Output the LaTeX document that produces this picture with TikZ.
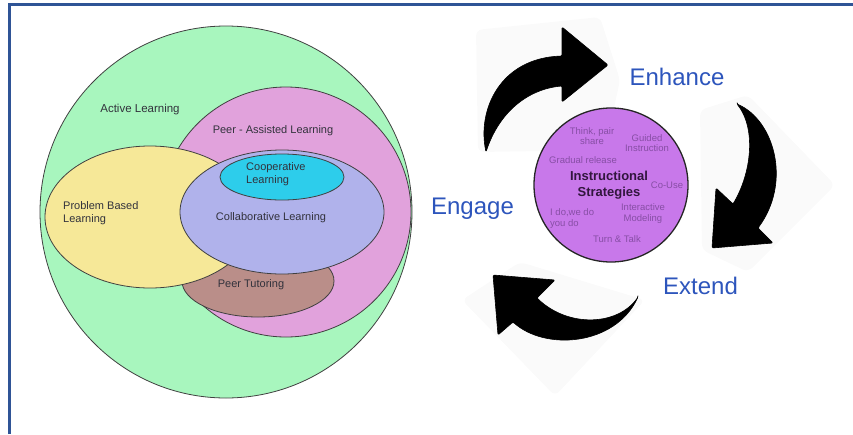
\documentclass[tikz,border=0pt]{standalone}
\usepackage{fontspec}
\setmainfont{Liberation Sans}
\usetikzlibrary{shapes.geometric}

\definecolor{frameblue}{RGB}{47,84,150}
\definecolor{activegreen}{RGB}{168,246,190}
\definecolor{peerpink}{RGB}{225,162,220}
\definecolor{pblyellow}{RGB}{246,232,152}
\definecolor{collabblue}{RGB}{176,178,235}
\definecolor{coopcyan}{RGB}{45,205,235}
\definecolor{tutorbrown}{RGB}{186,142,137}
\definecolor{stratpurple}{RGB}{200,120,234}
\definecolor{smallpurple}{RGB}{135,78,165}
\definecolor{phaseblue}{RGB}{45,85,188}
\definecolor{venntext}{RGB}{50,50,60}
\definecolor{strattext}{RGB}{50,22,62}

\tikzset{
  venn/.style={ellipse, draw=black!75, line width=0.8pt, inner sep=0pt},
  vtext/.style={text=venntext, font=\fontsize{11}{13}\selectfont, inner sep=0pt},
  small/.style={text=smallpurple, font=\fontsize{9.5}{10.5}\selectfont, inner sep=0pt, align=center},
  phase/.style={text=phaseblue, font=\fontsize{24}{28}\selectfont, inner sep=0pt},
  cyclearrow/.style={fill=black, draw=black, line width=0.6pt, line join=round, rounded corners=1.2pt},
  haze/.style={fill=black!2, draw=none}
}

\begin{document}
\begin{tikzpicture}[x=1pt,y=-1pt]
\useasboundingbox (0,0) rectangle (853,434);

% frame
\draw[frameblue, line width=3pt] (9.5,434) -- (9.5,4.5) -- (853,4.5);

% ---- nested learning approaches ----
\node[venn, fill=activegreen, minimum width=372pt, minimum height=372pt] (active) at (226,212) {};
\node[venn, fill=peerpink, minimum width=250pt, minimum height=250pt] (peer) at (286,212) {};
\node[venn, fill=tutorbrown, minimum width=152pt, minimum height=72pt] (tutor) at (258,281) {};
\node[venn, fill=pblyellow, minimum width=210pt, minimum height=142pt] (pbl) at (150,217) {};
\node[venn, fill=collabblue, minimum width=204pt, minimum height=124pt] (collab) at (282,212) {};
\node[venn, fill=coopcyan, minimum width=124pt, minimum height=46pt] (coop) at (282,177) {};

\node[vtext, font=\fontsize{11.5}{13}\selectfont] (activeL) at (140,110) {Active Learning};
\node[vtext] (peerL) at (273,131) {Peer - Assisted Learning};
\node[vtext, anchor=west, align=left] (coopL) at (246,174.5) {Cooperative\\Learning};
\node[vtext] (collabL) at (271,218) {Collaborative Learning};
\node[vtext, anchor=west, align=left] (pblL) at (63,213.5) {Problem Based\\Learning};
\node[vtext] (tutorL) at (251,285) {Peer Tutoring};

% ---- engagement cycle ----
% faint shadows behind the arrows
\fill[haze, rounded corners=6pt] (476,30) -- (600,17) -- (620,80) -- (605,150) -- (478,152) -- cycle;
\fill[haze, rounded corners=6pt] (700,110) -- (748,95) -- (835,185) -- (748,272) -- (702,250) -- cycle;
\fill[haze, rounded corners=6pt] (462,300) -- (520,262) -- (645,300) -- (555,396) -- cycle;

\draw[cyclearrow] (486,152) .. controls (477,110) and (500,58) .. (562,56)
  -- (562,27) -- (608,65) -- (562,102) -- (562,86)
  .. controls (528,89) and (499,112) .. (486,152) -- cycle;
\draw[cyclearrow] (737,104) .. controls (774,120) and (792,182) .. (758,228)
  -- (773,243) -- (712,248) -- (716,188) -- (733,204)
  .. controls (752,172) and (756,128) .. (737,104) -- cycle;
\draw[cyclearrow] (638,297) .. controls (615,346) and (545,351) .. (513,322)
  -- (498,335) -- (493,275) -- (555,280) -- (537,298)
  .. controls (568,328) and (618,326) .. (638,297) -- cycle;

\node[circle, fill=stratpurple, draw=black!85, line width=1.3pt, minimum size=154pt, inner sep=0pt] (strat) at (611,185) {};
\node[text=strattext, font=\fontsize{13}{16}\bfseries, align=center, inner sep=0pt] (stratL) at (609,185) {Instructional\\Strategies};

\node[small] (think) at (592,136) {Think, pair\\share};
\node[small] (guided) at (647,143) {Guided\\Instruction};
\node[small] (gradual) at (583,160) {Gradual release};
\node[small] (couse) at (667,185) {Co-Use};
\node[small, anchor=west, align=left] (ido) at (550,218.5) {I do,we do\\you do};
\node[small] (model) at (643,213.5) {Interactive\\Modeling};
\node[small] (turn) at (617,239) {Turn \& Talk};

\node[phase] (enhance) at (677,77) {Enhance};
\node[phase] (engage) at (472.5,209) {Engage};
\node[phase] (extend) at (700.5,286) {Extend};
\end{tikzpicture}
\end{document}
